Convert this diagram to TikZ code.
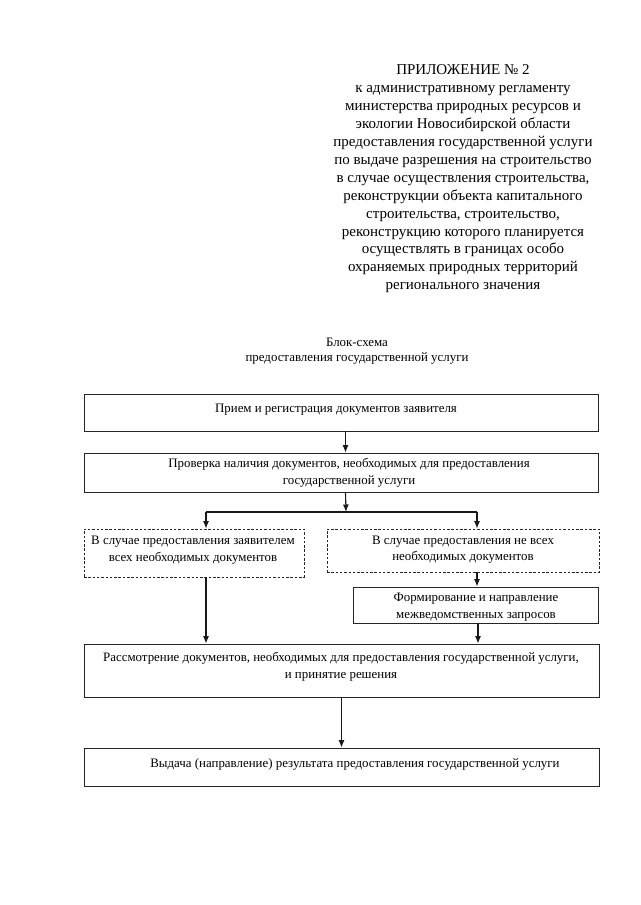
\documentclass[tikz,border=0pt]{standalone}
\usepackage{fontspec}
\setmainfont{Liberation Serif}
\usetikzlibrary{arrows.meta}
\begin{document}
\begin{tikzpicture}[x=1pt,y=-1pt,
  box/.style={draw=black!85,line width=0.8pt,rectangle,inner sep=0pt},
  dbox/.style={box,dash pattern=on 2.5pt off 1.8pt},
  txt/.style={inner sep=0pt,align=center,font=\fontsize{12.9}{16.5}\selectfont},
  arr/.style={draw=black!90,line width=1.1pt,-{Latex[length=7.5pt,width=6pt]}},
  ln/.style={draw=black!90,line width=1.1pt}]
\useasboundingbox (0,0) rectangle (640,905);
\fill[white] (0,0) rectangle (640,905);
% header
\node[inner sep=0pt,align=center,font=\fontsize{15}{17.9}\selectfont] (hdr) at (463,179) {ПРИЛОЖЕНИЕ № 2\\
к административному регламенту\\
министерства природных ресурсов и\\
экологии Новосибирской области\\
предоставления государственной услуги\\
по выдаче разрешения на строительство\\
в случае осуществления строительства,\\
реконструкции объекта капитального\\
строительства, строительство,\\
реконструкцию которого планируется\\
осуществлять в границах особо\\
охраняемых природных территорий\\
регионального значения};
\node[txt,font=\fontsize{12.9}{15}\selectfont] (title) at (357,351.5) {Блок-схема\\предоставления государственной услуги};
% boxes
\node[box,minimum width=514,minimum height=37] (b1) at (341,412.5) {};
\node[txt] (t1) at (336,409.5) {Прием и регистрация документов заявителя};
\node[box,minimum width=514,minimum height=39] (b2) at (341,472.5) {};
\node[txt] (t2) at (349,473) {Проверка наличия документов, необходимых для предоставления\\государственной услуги};
\node[dbox,minimum width=220,minimum height=48] (d1) at (194,553) {};
\node[txt] (t3) at (193,550) {В случае предоставления заявителем\\всех необходимых документов};
\node[dbox,minimum width=272,minimum height=43] (d2) at (463,550.5) {};
\node[txt] (t4) at (463,549.8) {В случае предоставления не всех\\необходимых документов};
\node[box,minimum width=245,minimum height=36] (f) at (475.5,605) {};
\node[txt] (t5) at (476,607) {Формирование и направление\\межведомственных запросов};
\node[box,minimum width=515,minimum height=53] (r) at (341.5,670.5) {};
\node[txt] (t6) at (341,666.5) {Рассмотрение документов, необходимых для предоставления государственной услуги,\\и принятие решения};
\node[box,minimum width=515,minimum height=38] (v) at (341.5,767) {};
\node[txt] (t7) at (355,764) {Выдача (направление) результата предоставления государственной услуги};
% connectors
\coordinate (j) at (346,512);
\coordinate (jl) at (206,512);
\coordinate (jr) at (477,512);
\draw[arr] ([xshift=4.5]b1.south) -- ([xshift=4.5]b2.north);
\draw[arr] ([xshift=4.5]b2.south) -- (j);
\draw[ln] (jl) -- (jr);
\draw[arr] (jl) -- (jl |- d1.north);
\draw[arr] (jr) -- (jr |- d2.north);
\draw[arr] (jr |- d2.south) -- (jr |- f.north);
\draw[arr] (jl |- d1.south) -- (jl |- r.north);
\draw[arr] ([xshift=1]jr |- f.south) -- ([xshift=1]jr |- r.north);
\draw[arr] (r.south) -- (v.north);
\end{tikzpicture}
\end{document}
